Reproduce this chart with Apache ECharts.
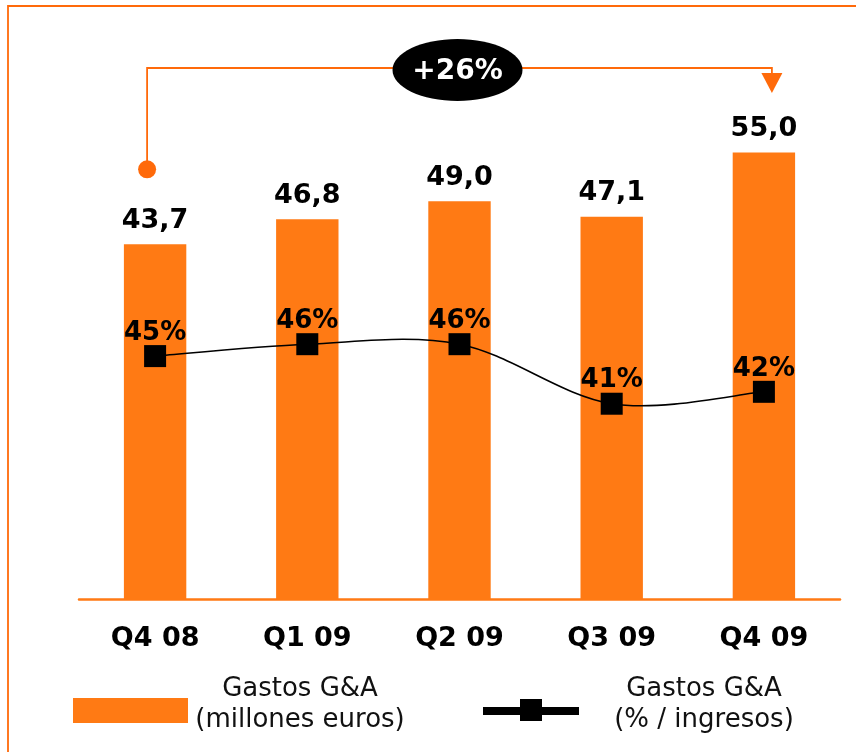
<!DOCTYPE html>
<html>
<head>
<meta charset="utf-8">
<script src="https://cdn.jsdelivr.net/npm/echarts@6/dist/echarts.min.js"></script>
<style>
  html, body { margin: 0; padding: 0; background: #fff; }
  #chart { width: 856px; height: 752px; }
</style>
</head>
<body>
<div id="chart"></div>
<script>
// Quarterly G&A expenses (million euros) and their share of revenue (%)
const quarters = ['Q4 08', 'Q1 09', 'Q2 09', 'Q3 09', 'Q4 09'];
const gastosMillones = [43.7, 46.8, 49.0, 47.1, 55.0];
const gastosPctIngresos = [45, 46, 46, 41, 42];
const growthLabel = '+26%';
const legendBarText = 'Gastos G&A\n(millones euros)';
const legendLineText = 'Gastos G&A\n(% / ingresos)';

const ORANGE = '#FF7A14';
const ORANGE_LINE = '#FF6A0A';
const FONT = '"DejaVu Sans", Verdana, sans-serif';

const chart = echarts.init(document.getElementById('chart'), null, { renderer: 'canvas' });

const fmtComma = v => v.toFixed(1).replace('.', ',');

// Catmull-Rom curve through the share-of-revenue points, drawn in axis coordinates
function renderPctCurve(params, api) {
  if (params.dataIndex !== 0) return null;
  const pts = gastosPctIngresos.map((v, i) => api.coord([i, v]));
  const n = pts.length;
  const children = [];
  for (let i = 0; i < n - 1; i++) {
    const p0 = pts[Math.max(i - 1, 0)];
    const p1 = pts[i];
    const p2 = pts[i + 1];
    const p3 = pts[Math.min(i + 2, n - 1)];
    children.push({
      type: 'bezierCurve',
      shape: {
        x1: p1[0], y1: p1[1], x2: p2[0], y2: p2[1],
        cpx1: p1[0] + (p2[0] - p0[0]) / 6, cpy1: p1[1] + (p2[1] - p0[1]) / 6,
        cpx2: p2[0] - (p3[0] - p1[0]) / 6, cpy2: p2[1] - (p3[1] - p1[1]) / 6
      },
      style: { stroke: '#000', lineWidth: 1.6, fill: null }
    });
  }
  return { type: 'group', children: children };
}

chart.setOption({
  backgroundColor: '#ffffff',
  animation: false,
  grid: { left: 79, right: 16, top: 112, bottom: 153, containLabel: false },
  xAxis: {
    type: 'category',
    data: quarters,
    axisLine: { show: true, lineStyle: { color: ORANGE, width: 2.5 } },
    axisTick: { show: false },
    axisLabel: {
      color: '#000', fontFamily: FONT, fontWeight: 'bold', fontSize: 27, margin: 26
    }
  },
  yAxis: [
    { type: 'value', min: 0, max: 60, show: false, splitLine: { show: false } },
    { type: 'value', min: 24.6, max: 65.5, show: false, splitLine: { show: false } }
  ],
  series: [
    {
      name: 'Gastos G&A (millones euros)',
      type: 'bar',
      data: gastosMillones,
      barWidth: '41%',
      itemStyle: { color: ORANGE },
      label: {
        show: true, position: 'top', distance: 10,
        color: '#000', fontFamily: FONT, fontWeight: 'bold', fontSize: 27,
        formatter: p => fmtComma(p.value)
      },
      z: 2
    },
    {
      name: 'curve',
      type: 'custom',
      yAxisIndex: 1,
      data: gastosPctIngresos.map((v, i) => [i, v]),
      renderItem: renderPctCurve,
      silent: true,
      z: 3
    },
    {
      name: 'Gastos G&A (% / ingresos)',
      type: 'line',
      yAxisIndex: 1,
      data: gastosPctIngresos,
      symbol: 'rect',
      symbolSize: 22,
      itemStyle: { color: '#000' },
      lineStyle: { width: 0, opacity: 0 },
      label: {
        show: true, position: 'top', distance: -1,
        color: '#000', fontFamily: FONT, fontWeight: 'bold', fontSize: 26,
        formatter: p => p.value + '%'
      },
      z: 4
    }
  ]
});

// Growth annotation and legend, placed from the chart's own scales
function drawOverlay() {
  const x0 = chart.convertToPixel({ xAxisIndex: 0 }, quarters[0]);
  const x4 = chart.convertToPixel({ xAxisIndex: 0 }, quarters[quarters.length - 1]);
  const yFirst = chart.convertToPixel({ yAxisIndex: 0 }, gastosMillones[0]);
  const startX = x0 - 8;
  const endX = x4 + 8;
  const topY = 68;
  const dotY = yFirst - 75;
  const midX = (startX + endX) / 2;

  chart.setOption({
    graphic: [
      // outer frame
      { type: 'rect', shape: { x: 8, y: 6, width: 900, height: 800 },
        style: { fill: 'none', stroke: ORANGE_LINE, lineWidth: 1.8 }, silent: true },
      // connector from first to last quarter
      { type: 'polyline', shape: { points: [[startX, dotY], [startX, topY], [endX, topY], [endX, topY + 6]] },
        style: { fill: 'none', stroke: ORANGE_LINE, lineWidth: 1.8 }, silent: true },
      { type: 'circle', shape: { cx: startX, cy: dotY, r: 9 }, style: { fill: ORANGE_LINE } },
      { type: 'polygon', shape: { points: [[endX - 10.5, topY + 5], [endX + 10.5, topY + 5], [endX, topY + 25]] },
        style: { fill: ORANGE_LINE } },
      { type: 'ellipse', shape: { cx: midX - 2, cy: 70, rx: 65, ry: 31 }, style: { fill: '#000' } },
      { type: 'text', x: midX - 2, y: 72,
        style: { text: growthLabel, fill: '#fff', font: 'bold 28px ' + FONT, align: 'center', verticalAlign: 'middle' } },

      // legend: bars
      { type: 'rect', shape: { x: 73, y: 698, width: 115, height: 25 }, style: { fill: ORANGE } },
      { type: 'text', x: 300, y: 705,
        style: { text: legendBarText, fill: '#111', font: '26px ' + FONT, align: 'center', verticalAlign: 'middle', lineHeight: 31 } },
      // legend: line
      { type: 'rect', shape: { x: 483, y: 707, width: 96, height: 8 }, style: { fill: '#000' } },
      { type: 'rect', shape: { x: 520, y: 699, width: 22, height: 22 }, style: { fill: '#000' } },
      { type: 'text', x: 704, y: 705,
        style: { text: legendLineText, fill: '#111', font: '26px ' + FONT, align: 'center', verticalAlign: 'middle', lineHeight: 31 } }
    ]
  });
}
drawOverlay();
</script>
</body>
</html>
